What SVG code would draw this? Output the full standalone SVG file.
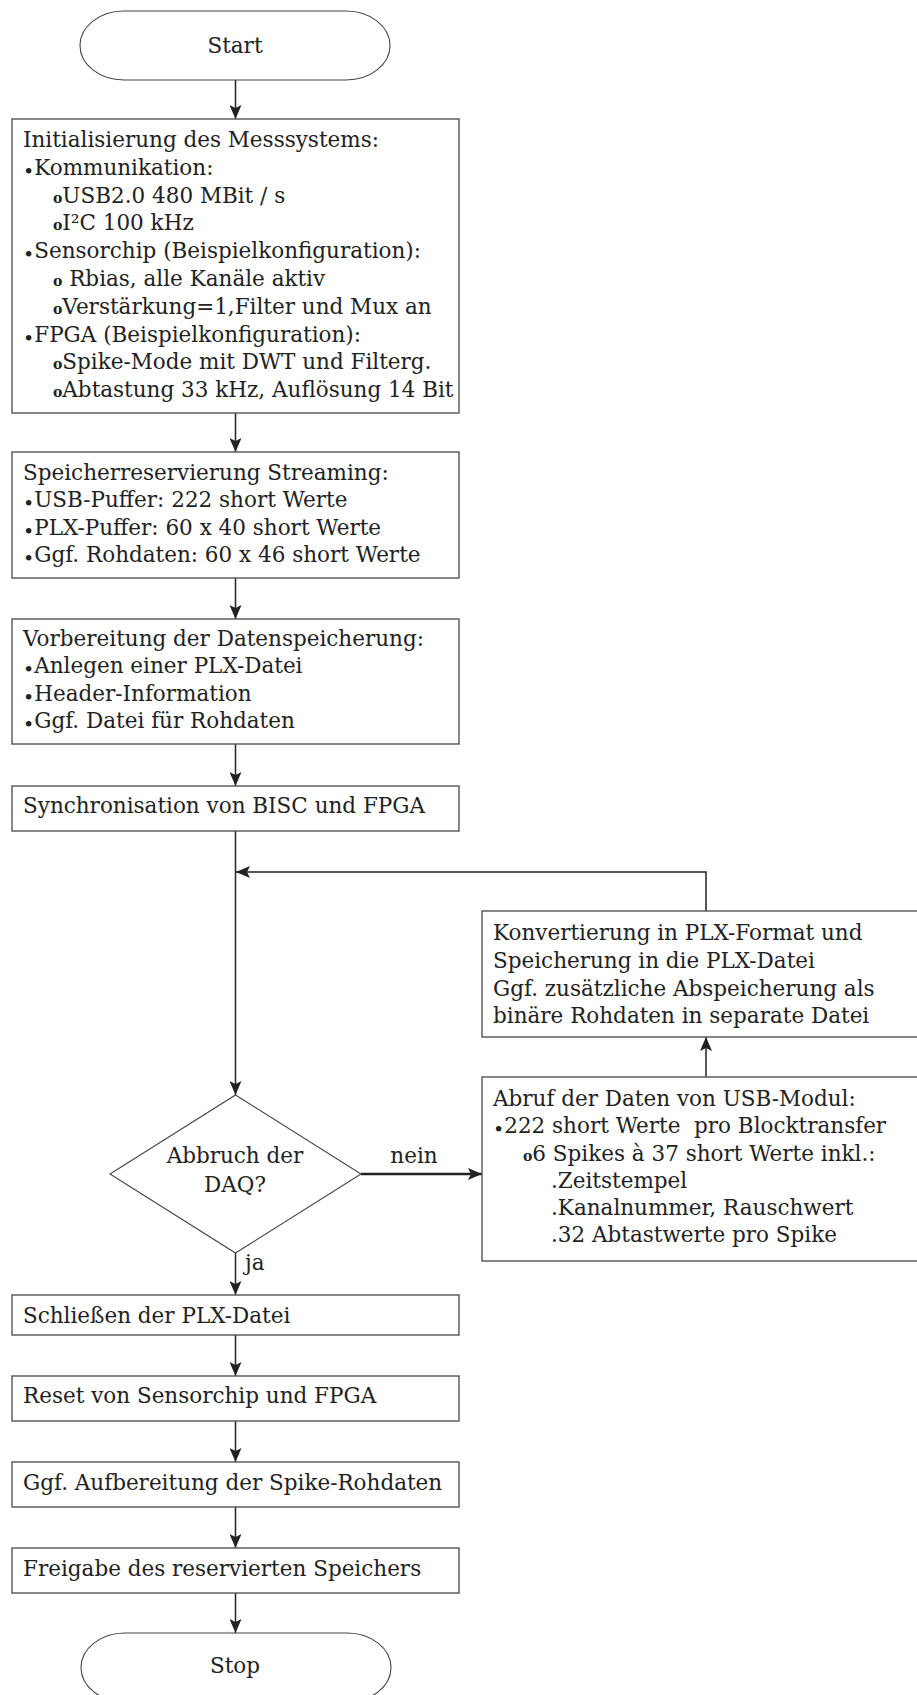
<svg xmlns="http://www.w3.org/2000/svg" width="917" height="1695" viewBox="0 0 917 1695">
<style>
text{font-family:"DejaVu Serif","Liberation Serif",serif;font-size:21.5px;fill:#222}
.c{text-anchor:middle}
.box{fill:#fff;stroke:#555;stroke-width:1.4}
.term{fill:#fff;stroke:#444;stroke-width:1.1}
.ln{fill:none;stroke:#222;stroke-width:1.5}
.thick{stroke-width:2.4}
.sb{font-size:14px;font-weight:bold}
.b{font-size:19px;baseline-shift:-3px}
</style>
<defs>
<marker id="ah" viewBox="0 0 14 12" refX="14" refY="6" markerWidth="14" markerHeight="12" markerUnits="userSpaceOnUse" orient="auto">
<path d="M0,0 L14,6 L0,12 L3,6 Z" fill="#222"/>
</marker>
</defs>
<g id="connectors">
<line class="ln" x1="235.5" y1="80" x2="235.5" y2="119" marker-end="url(#ah)"/>
<line class="ln" x1="235.5" y1="413" x2="235.5" y2="452" marker-end="url(#ah)"/>
<line class="ln" x1="235.5" y1="578" x2="235.5" y2="619" marker-end="url(#ah)"/>
<line class="ln" x1="235.5" y1="744" x2="235.5" y2="786" marker-end="url(#ah)"/>
<line class="ln" x1="235.5" y1="831" x2="235.5" y2="1095" marker-end="url(#ah)"/>
<polyline class="ln" points="706,911 706,872 236,872" marker-end="url(#ah)"/>
<line class="ln" x1="706" y1="1077" x2="706" y2="1037" marker-end="url(#ah)"/>
<line class="ln thick" x1="361" y1="1174" x2="482" y2="1174" marker-end="url(#ah)"/>
<line class="ln" x1="235.5" y1="1253" x2="235.5" y2="1295" marker-end="url(#ah)"/>
<line class="ln" x1="235.5" y1="1335" x2="235.5" y2="1376" marker-end="url(#ah)"/>
<line class="ln" x1="235.5" y1="1421" x2="235.5" y2="1462" marker-end="url(#ah)"/>
<line class="ln" x1="235.5" y1="1507" x2="235.5" y2="1548" marker-end="url(#ah)"/>
<line class="ln" x1="235.5" y1="1593" x2="235.5" y2="1633" marker-end="url(#ah)"/>
<text x="414" y="1163" class="c">nein</text>
<text x="245" y="1270">ja</text>
</g>
<g id="start">
<rect class="term" x="80" y="11" width="310" height="69" rx="44" ry="34.5"/>
<text x="235" y="53" class="c">Start</text>
</g>
<g id="init">
<rect class="box" x="12" y="119" width="447" height="294"/>
<text x="23" y="147">Initialisierung des Messsystems:</text>
<text x="23" y="175"><tspan class="b">•</tspan>Kommunikation:</text>
<text x="53" y="203"><tspan class="sb">o</tspan>USB2.0 480 MBit / s</text>
<text x="53" y="230"><tspan class="sb">o</tspan>I²C 100 kHz</text>
<text x="23" y="258"><tspan class="b">•</tspan>Sensorchip (Beispielkonfiguration):</text>
<text x="53" y="286"><tspan class="sb">o</tspan> Rbias, alle Kanäle aktiv</text>
<text x="53" y="314"><tspan class="sb">o</tspan>Verstärkung=1,Filter und Mux an</text>
<text x="23" y="342"><tspan class="b">•</tspan>FPGA (Beispielkonfiguration):</text>
<text x="53" y="369"><tspan class="sb">o</tspan>Spike-Mode mit DWT und Filterg.</text>
<text x="53" y="397"><tspan class="sb">o</tspan>Abtastung 33 kHz, Auflösung 14 Bit</text>
</g>
<g id="speicher">
<rect class="box" x="12" y="452" width="447" height="126"/>
<text x="23" y="480">Speicherreservierung Streaming:</text>
<text x="23" y="507"><tspan class="b">•</tspan>USB-Puffer: 222 short Werte</text>
<text x="23" y="535"><tspan class="b">•</tspan>PLX-Puffer: 60 x 40 short Werte</text>
<text x="23" y="562"><tspan class="b">•</tspan>Ggf. Rohdaten: 60 x 46 short Werte</text>
</g>
<g id="vorbereitung">
<rect class="box" x="12" y="619" width="447" height="125"/>
<text x="23" y="646">Vorbereitung der Datenspeicherung:</text>
<text x="23" y="673"><tspan class="b">•</tspan>Anlegen einer PLX-Datei</text>
<text x="23" y="701"><tspan class="b">•</tspan>Header-Information</text>
<text x="23" y="728"><tspan class="b">•</tspan>Ggf. Datei für Rohdaten</text>
</g>
<g id="sync">
<rect class="box" x="12" y="786" width="447" height="45"/>
<text x="23" y="813">Synchronisation von BISC und FPGA</text>
</g>
<g id="konvertierung">
<rect class="box" x="482" y="911" width="450" height="126"/>
<text x="493" y="940">Konvertierung in PLX-Format und</text>
<text x="493" y="968">Speicherung in die PLX-Datei</text>
<text x="493" y="996">Ggf. zusätzliche Abspeicherung als</text>
<text x="493" y="1023">binäre Rohdaten in separate Datei</text>
</g>
<g id="abruf">
<rect class="box" x="482" y="1077" width="450" height="184"/>
<text x="493" y="1106">Abruf der Daten von USB-Modul:</text>
<text x="493" y="1133" xml:space="preserve"><tspan class="b">•</tspan>222 short Werte  pro Blocktransfer</text>
<text x="523" y="1161"><tspan class="sb">o</tspan>6 Spikes à 37 short Werte inkl.:</text>
<text x="551" y="1188">.Zeitstempel</text>
<text x="551" y="1215">.Kanalnummer, Rauschwert</text>
<text x="551" y="1242">.32 Abtastwerte pro Spike</text>
</g>
<g id="decision">
<polygon class="term" points="235.5,1095 361,1174 235.5,1253 110,1174"/>
<text x="235" y="1163" class="c">Abbruch der</text>
<text x="235" y="1192" class="c">DAQ?</text>
</g>
<g id="schliessen">
<rect class="box" x="12" y="1295" width="447" height="40"/>
<text x="23" y="1323">Schließen der PLX-Datei</text>
</g>
<g id="reset">
<rect class="box" x="12" y="1376" width="447" height="45"/>
<text x="23" y="1403">Reset von Sensorchip und FPGA</text>
</g>
<g id="aufbereitung">
<rect class="box" x="12" y="1462" width="447" height="45"/>
<text x="23" y="1490">Ggf. Aufbereitung der Spike-Rohdaten</text>
</g>
<g id="freigabe">
<rect class="box" x="12" y="1548" width="447" height="45"/>
<text x="23" y="1576">Freigabe des reservierten Speichers</text>
</g>
<g id="stop">
<rect class="term" x="81" y="1633" width="310" height="69" rx="44" ry="34.5"/>
<text x="235" y="1673" class="c">Stop</text>
</g>
</svg>
